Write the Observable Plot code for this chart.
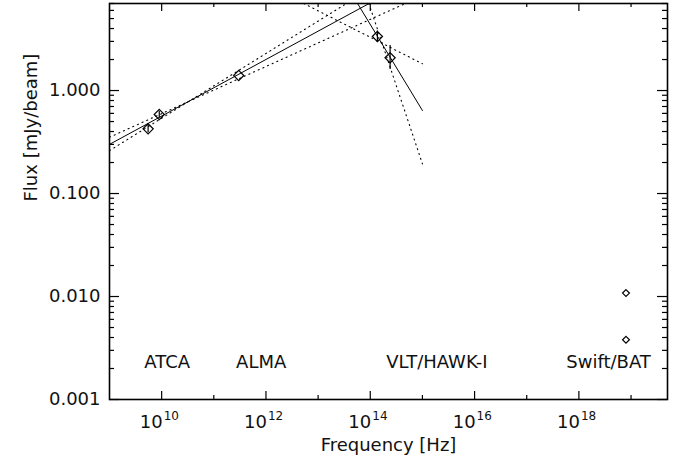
<!DOCTYPE html>
<html>
<head>
<meta charset="utf-8">
<script src="https://cdn.jsdelivr.net/npm/d3@7"></script>
<script src="https://cdn.jsdelivr.net/npm/@observablehq/plot@0.6"></script>
<style>
  html, body { margin: 0; padding: 0; background: #fff; }
  #chart svg { display: block; }
</style>
</head>
<body>
<div id="chart"></div>
<script>
// ---- measured fluxes (open diamonds) ----
const obsFreq  = [5.5e9, 9.0e9, 3.0e11, 1.37e14, 2.4e14];
const obsFlux  = [0.425, 0.585, 1.40, 3.35, 2.08];
const obsLo    = [0.39, 0.54, 1.40, 2.96, 1.60];
const obsHi    = [0.46, 0.63, 1.40, 3.78, 2.73];

// ---- Swift/BAT points (small diamonds) ----
const batFreq = [8.0e18, 8.0e18];
const batFlux = [0.0108, 0.0038];

// ---- power-law fits (endpoints) ----
const fitRadioFreq = [1e9, 1e14];
const fitRadioFlux = [0.30, 7.1];
const fitRadioAFreq = [1e9, 4.7e14];   // dotted, flatter
const fitRadioAFlux = [0.352, 7.0];
const fitRadioBFreq = [1e9, 3.5e13];   // dotted, steeper
const fitRadioBFlux = [0.261, 7.0];

const fitIRFreq = [5.7e13, 1e15];
const fitIRFlux = [7.0, 0.64];
const fitIRCFreq = [5.3e12, 1e15];     // dotted, flatter
const fitIRCFlux = [7.0, 1.82];
const fitIRDFreq = [9.4e13, 1e15];     // dotted, steeper
const fitIRDFlux = [7.0, 0.194];

// ---- instrument labels ----
const instruments = ["ATCA", "ALMA", "VLT/HAWK-I", "Swift/BAT"];
const instrFreq   = [1.28e10, 8.1e11, 1.9e15, 3.7e18];
const instrFlux   = [0.0023, 0.0023, 0.0023, 0.0023];

// ---- ticks ----
const xMajorTicks  = [1e10, 1e12, 1e14, 1e16, 1e18];
const xMajorBase   = ["10", "10", "10", "10", "10"];
const xMajorExp    = ["10", "12", "14", "16", "18"];
const xMinorTicks  = [1e11, 1e13, 1e15, 1e17, 1e19];
const yMajorTicks  = [0.001, 0.01, 0.1, 1];
const yMajorLabels = ["0.001", "0.010", "0.100", "1.000"];
const yMinorTicks  = [];
for (const dec of [0.001, 0.01, 0.1, 1]) for (let m = 2; m <= 9; m++) { const v = +(m * dec).toPrecision(3); if (v <= 7) yMinorTicks.push(v); }

const xLabel = "Frequency [Hz]";
const yLabel = "Flux [mJy/beam]";

// ---- build tables ----
const obs = obsFreq.map((f, i) => ({f, v: obsFlux[i], lo: obsLo[i], hi: obsHi[i]}));
const bat = batFreq.map((f, i) => ({f, v: batFlux[i]}));
const seg = (fs, vs) => fs.map((f, i) => ({f, v: vs[i]}));
const instr = instruments.map((t, i) => ({t, f: instrFreq[i], v: instrFlux[i]}));

const W = 688, H = 461;
const mL = 109, mR = 21, mT = 3, mB = 62;
const plotW = W - mL - mR, plotH = H - mT - mB;
const FS = 18;
const TXT = "#111";
const dotted = {stroke: "#000", strokeWidth: 1.1, strokeDasharray: "1.1,4", clip: true};

const chart = Plot.plot({
  width: W, height: H,
  marginLeft: mL, marginRight: mR, marginTop: mT, marginBottom: mB,
  style: {fontFamily: "'DejaVu Sans', sans-serif", fontSize: FS + "px", background: "#fff", color: "#000"},
  x: {type: "log", domain: [1e9, 5e19], axis: null},
  y: {type: "log", domain: [1e-3, 7], axis: null},
  marks: [
    // fits
    Plot.line(seg(fitRadioFreq, fitRadioFlux), {x: "f", y: "v", stroke: "#000", strokeWidth: 1, clip: true}),
    Plot.line(seg(fitRadioAFreq, fitRadioAFlux), {x: "f", y: "v", ...dotted}),
    Plot.line(seg(fitRadioBFreq, fitRadioBFlux), {x: "f", y: "v", ...dotted}),
    Plot.line(seg(fitIRFreq, fitIRFlux), {x: "f", y: "v", stroke: "#000", strokeWidth: 1, clip: true}),
    Plot.line(seg(fitIRCFreq, fitIRCFlux), {x: "f", y: "v", ...dotted}),
    Plot.line(seg(fitIRDFreq, fitIRDFlux), {x: "f", y: "v", ...dotted}),
    // error bars
    Plot.ruleX(obs, {x: "f", y1: "lo", y2: "hi", stroke: "#000", strokeWidth: 1.2}),
    // points
    Plot.dot(obs, {x: "f", y: "v", symbol: "diamond2", r: 4.6, stroke: "#000", strokeWidth: 1.2, fill: "none"}),
    Plot.dot(bat, {x: "f", y: "v", symbol: "diamond2", r: 3.1, stroke: "#000", strokeWidth: 1.2, fill: "none"}),
    // instrument labels
    Plot.text(instr, {x: "f", y: "v", text: "t", fontSize: FS, fill: TXT, textAnchor: "middle"}),
    // ticks (inward, mirrored)
    Plot.tickX(xMajorTicks, {x: d => d, insetTop: plotH - 8, stroke: "#000", strokeWidth: 1.2}),
    Plot.tickX(xMajorTicks, {x: d => d, insetBottom: plotH - 8, stroke: "#000", strokeWidth: 1.2}),
    Plot.tickX(xMinorTicks, {x: d => d, insetTop: plotH - 4, stroke: "#000", strokeWidth: 1.2}),
    Plot.tickX(xMinorTicks, {x: d => d, insetBottom: plotH - 4, stroke: "#000", strokeWidth: 1.2}),
    Plot.tickY(yMajorTicks, {y: d => d, insetRight: plotW - 10, stroke: "#000", strokeWidth: 1.2}),
    Plot.tickY(yMajorTicks, {y: d => d, insetLeft: plotW - 10, stroke: "#000", strokeWidth: 1.2}),
    Plot.tickY(yMinorTicks, {y: d => d, insetRight: plotW - 5, stroke: "#000", strokeWidth: 1.2}),
    Plot.tickY(yMinorTicks, {y: d => d, insetLeft: plotW - 5, stroke: "#000", strokeWidth: 1.2}),
    // tick labels (base and superscript exponent)
    Plot.text(xMajorTicks, {x: d => d, text: (d, i) => xMajorBase[i], frameAnchor: "bottom", lineAnchor: "bottom", textAnchor: "end", dx: 1, dy: 28, fontSize: FS, fill: TXT}),
    Plot.text(xMajorTicks, {x: d => d, text: (d, i) => xMajorExp[i], frameAnchor: "bottom", lineAnchor: "bottom", textAnchor: "start", dx: 2, dy: 20, fontSize: 12, fill: TXT}),
    Plot.text(yMajorTicks, {y: d => d, text: (d, i) => yMajorLabels[i], frameAnchor: "left", textAnchor: "end", dx: -9, fontSize: FS, fill: TXT}),
    // axis titles
    Plot.text([xLabel], {text: d => d, frameAnchor: "bottom", lineAnchor: "bottom", dy: 51, fontSize: FS, fill: TXT}),
    Plot.text([yLabel], {text: d => d, frameAnchor: "left", dx: -78, rotate: -90, fontSize: FS, fill: TXT}),
    Plot.frame({stroke: "#000", strokeWidth: 1.6})
  ]
});
document.getElementById("chart").appendChild(chart);
</script>
</body>
</html>
